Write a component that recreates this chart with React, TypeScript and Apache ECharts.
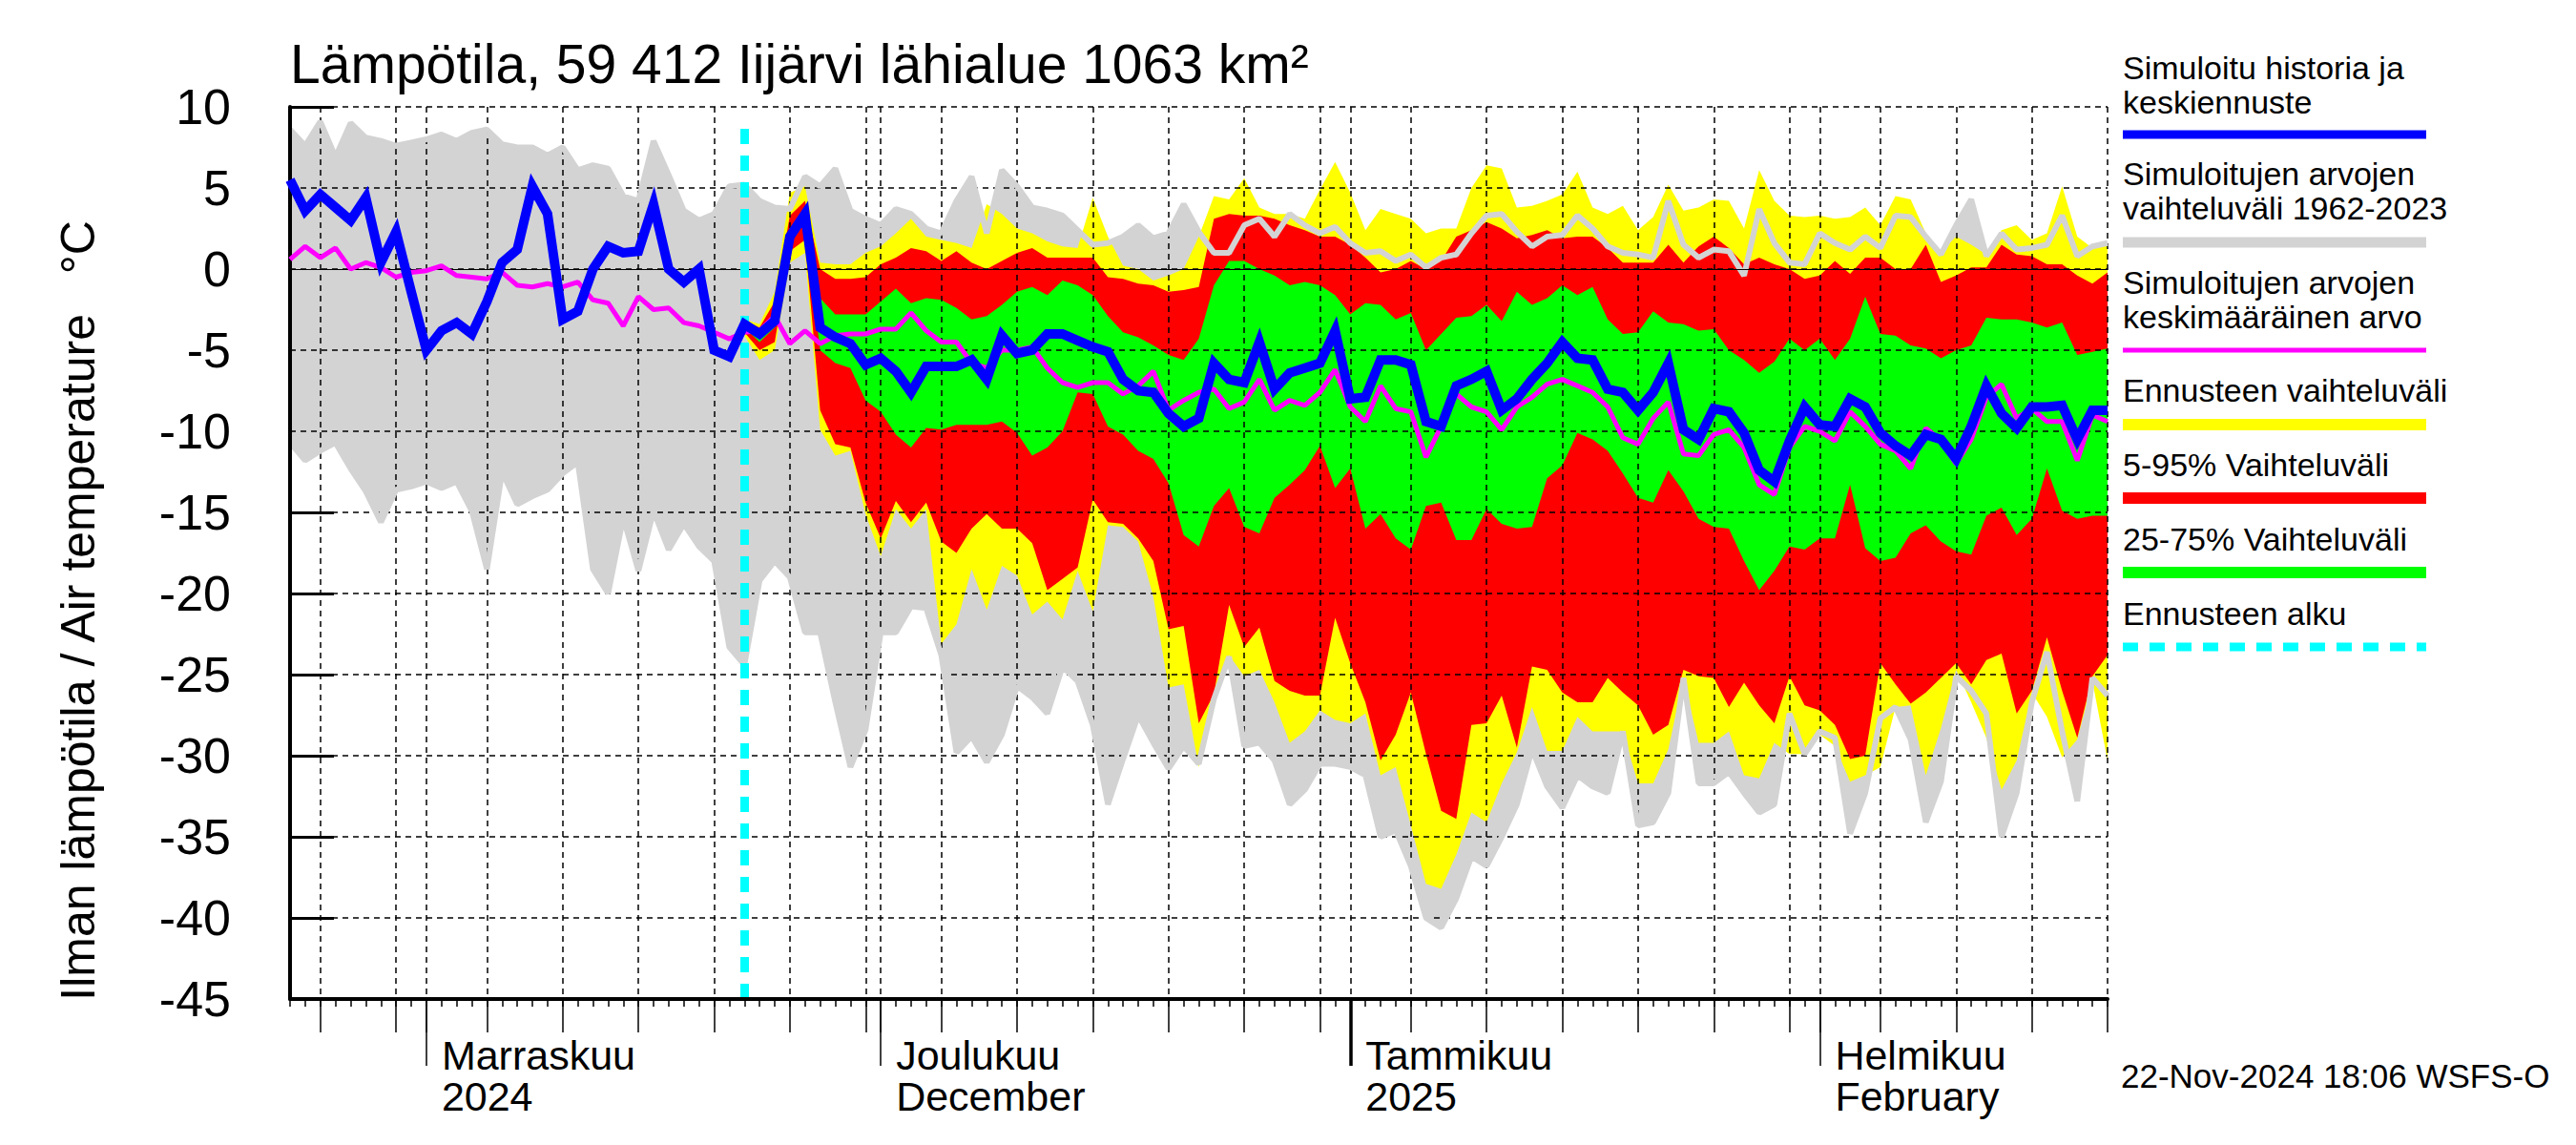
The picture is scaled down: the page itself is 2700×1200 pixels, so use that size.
import React, { useEffect, useRef } from "react";
import * as echarts from "echarts";

// ---------- data ----------
const START_Y = 2024;
const START_M = 9; // October (0-based)
const START_D = 23;
const DAY_COUNT = 121;
const FORECAST_START_INDEX = 30; // 22 Nov 2024

const titleText = "Lämpötila, 59 412 Iijärvi lähialue 1063 km²";
const yAxisTitle = "Ilman lämpötila / Air temperature   °C";
const stampText = "22-Nov-2024 18:06 WSFS-O";

const yTicks = { min: -45, max: 10, step: 5 };
const gridDays = [1, 5, 10, 15, 20, 25, 30];
const monthLabelDates = ["2024-11-01", "2024-12-01", "2025-01-01", "2025-02-01"];
const monthLabelTexts = ["Marraskuu\n2024", "Joulukuu\nDecember", "Tammikuu\n2025", "Helmikuu\nFebruary"];
const yearStartDate = "2025-01-01";

// simulated history + median forecast
const blueLine = [
  5.5, 3.6, 4.6, 3.8, 3.0, 4.4, 0.4, 2.3, -1.4, -5.0,
  -3.8, -3.3, -4.0, -2.0, 0.4, 1.2, 5.1, 3.4, -3.1, -2.6,
  0.0, 1.4, 1.0, 1.1, 4.0, 0.0, -0.8, 0.0, -5.0, -5.4,
  -3.4, -4.0, -3.2, 2.0, 3.4, -3.6, -4.2, -4.6, -5.9, -5.5,
  -6.3, -7.6, -6.0, -6.0, -6.0, -5.6, -6.8, -4.1, -5.2, -5.0,
  -4.0, -4.0, -4.4, -4.8, -5.1, -6.8, -7.5, -7.6, -8.9, -9.7,
  -9.2, -5.8, -6.8, -7.0, -4.5, -7.4, -6.4, -6.1, -5.8, -3.8,
  -8.0, -7.9, -5.6, -5.6, -5.9, -9.4, -9.7, -7.2, -6.8, -6.3,
  -8.7, -8.0, -6.8, -5.8, -4.5, -5.5, -5.6, -7.4, -7.6, -8.7,
  -7.6, -5.8, -9.9, -10.5, -8.6, -8.8, -10.1, -12.4, -13.1, -10.6,
  -8.5, -9.6, -9.7, -8.0, -8.5, -10.1, -10.9, -11.5, -10.2, -10.5,
  -11.7, -9.7, -7.2, -8.9, -9.8, -8.5, -8.5, -8.4, -10.5, -8.7,
  -8.7,
];

// mean of simulated values
const magentaLine = [
  0.6, 1.4, 0.7, 1.3, 0.0, 0.4, 0.1, -0.5, -0.2, -0.1,
  0.2, -0.4, -0.5, -0.6, -0.2, -1.0, -1.1, -0.9, -1.1, -0.8,
  -1.9, -2.1, -3.5, -1.7, -2.5, -2.4, -3.3, -3.5, -3.9, -4.3,
  -3.9, -3.8, -2.9, -4.6, -3.8, -4.6, -4.1, -4.0, -4.0, -3.7,
  -3.7, -2.7, -3.8, -4.5, -4.5, -5.8, -6.1, -5.0, -5.0, -4.8,
  -6.1, -7.0, -7.3, -7.0, -7.0, -7.7, -7.2, -6.3, -8.7, -8.1,
  -7.6, -7.4, -8.6, -8.2, -6.8, -8.7, -8.1, -8.4, -7.6, -6.2,
  -8.5, -9.4, -7.2, -8.6, -8.8, -11.6, -9.7, -7.7, -8.5, -8.8,
  -9.9, -8.5, -7.9, -7.1, -6.8, -7.2, -7.6, -8.5, -10.4, -10.8,
  -9.2, -8.2, -11.4, -11.5, -10.2, -9.9, -11.0, -13.3, -13.9, -11.0,
  -9.7, -10.0, -10.6, -8.8, -9.7, -10.8, -11.2, -12.3, -9.8, -10.6,
  -12.0, -10.5, -7.9, -7.1, -9.2, -8.6, -9.4, -9.4, -11.8, -9.0,
  -9.4,
];

// historical range 1962-2023
const grayMax = [
  8.6, 7.6, 9.1, 6.9, 9.0, 8.1, 7.9, 7.6, 7.8, 8.0,
  8.3, 7.9, 8.4, 8.6, 7.7, 7.5, 7.5, 7.0, 7.5, 6.1,
  6.4, 6.2, 4.5, 4.2, 7.9, 5.8, 3.6, 3.0, 3.4, 5.1,
  5.2, 4.2, 3.8, 3.7, 5.7, 5.1, 6.2, 3.6, 3.1, 2.7,
  3.7, 3.4, 2.5, 2.2, 4.2, 5.7, 2.2, 6.1, 5.1, 3.8,
  3.6, 3.3, 2.4, 1.5, 1.6, 2.0, 2.7, 1.9, 2.2, 4.0,
  2.3, 1.0, 1.0, 2.7, 3.1, 2.0, 3.4, 2.7, 2.2, 2.6,
  1.6, 1.0, 1.1, 0.5, 0.9, 0.1, 0.7, 0.9, 2.2, 3.3,
  3.4, 2.3, 1.4, 2.0, 2.1, 3.3, 2.5, 1.4, 1.0, 0.9,
  0.7, 4.2, 1.5, 0.7, 1.2, 1.1, -0.4, 3.7, 1.6, 0.4,
  0.3, 2.2, 1.6, 1.2, 2.0, 1.3, 3.3, 3.2, 2.0, 0.9,
  2.7, 4.3, 0.8, 2.2, 1.2, 1.3, 1.5, 3.3, 0.8, 1.4,
  1.6,
];
const grayMin = [
  -10.7, -11.8, -11.2, -10.7, -12.3, -13.7, -15.6, -13.6, -13.4, -13.1,
  -13.5, -13.1, -14.9, -18.5, -12.5, -14.5, -14.0, -13.6, -12.6, -11.9,
  -18.5, -20.0, -15.3, -18.6, -14.9, -17.3, -15.7, -17.1, -18.0, -23.3,
  -24.4, -19.2, -18.0, -19.0, -22.4, -22.4, -26.7, -30.7, -28.4, -22.4,
  -22.4, -20.8, -20.9, -23.8, -29.8, -28.8, -30.4, -28.7, -25.7, -26.4,
  -27.4, -24.5, -25.4, -28.1, -33.0, -30.2, -27.5, -29.2, -30.8, -29.4,
  -30.5, -26.5, -23.9, -29.4, -29.2, -30.3, -33.0, -32.1, -30.5, -30.5,
  -30.7, -31.2, -35.0, -34.6, -36.8, -40.0, -40.6, -38.8, -36.2, -36.8,
  -35.0, -33.0, -29.6, -31.9, -33.2, -31.2, -31.9, -32.3, -28.5, -34.3,
  -34.1, -32.3, -25.2, -31.7, -31.7, -31.0, -32.3, -33.5, -33.0, -27.4,
  -29.9, -28.5, -28.9, -34.8, -32.3, -27.7, -27.0, -29.0, -34.1, -31.6,
  -25.1, -26.0, -27.4, -35.0, -32.3, -26.7, -23.6, -28.5, -32.8, -25.2,
  -26.3,
];

// forecast bands, from 22 Nov 2024 (index 30) to the end
const forecastMax = [
  -3.1, -3.4, -1.4, 4.7, 5.1, 0.4, 0.3, 0.3, 1.0, 1.4,
  2.2, 3.1, 2.0, 1.8, 1.6, 1.3, 4.0, 3.4, 2.5, 2.2,
  1.7, 1.4, 1.3, 4.4, 2.0, 0.2, 0.0, -0.7, -0.4, 0.0,
  2.0, 4.5, 4.3, 5.6, 3.8, 3.4, 3.4, 3.1, 4.9, 6.6,
  4.7, 2.4, 3.7, 3.4, 3.1, 2.2, 2.5, 2.5, 5.0, 6.4,
  6.2, 3.8, 3.9, 4.2, 4.6, 6.0, 3.8, 3.4, 3.9, 2.4,
  3.2, 5.2, 3.6, 3.8, 4.3, 4.2, 2.5, 6.1, 4.2, 3.3,
  3.2, 3.3, 3.1, 3.2, 3.8, 2.7, 4.5, 4.3, 2.2, 1.1,
  2.0, 1.5, 0.9, 2.4, 2.7, 1.8, 2.2, 5.1, 2.0, 1.3,
  1.5,
];
const forecastP95 = [
  -3.2, -3.6, -2.0, 3.3, 4.2, 0.0, -0.6, -0.6, -0.5, 0.3,
  0.7, 1.3, 1.1, 0.5, 1.1, 0.4, 0.0, 0.5, 1.0, 1.3,
  0.7, 0.7, 0.7, 0.7, -0.5, -0.6, -0.9, -1.0, -1.4, -1.3,
  -1.1, 3.1, 3.4, 3.3, 3.3, 3.1, 2.7, 2.4, 2.0, 2.0,
  1.5, 0.7, -0.2, 0.0, 0.5, 0.0, 0.5, 2.0, 2.4, 2.9,
  2.5, 1.9, 2.1, 2.4, 1.9, 2.0, 2.0, 1.3, 0.4, 0.4,
  0.4, 1.5, 0.4, 1.4, 2.0, 1.3, 0.3, 0.7, 0.3, 0.0,
  -0.6, -0.4, 0.5, -0.3, 0.7, 0.7, 0.0, 0.0, 1.5, -0.8,
  -0.4, 0.1, 0.1, 1.5, 0.9, 0.8, 0.3, 0.3, -0.4, -0.9,
  -0.2,
];
const forecastP75 = [
  -3.3, -4.0, -2.9, 2.5, 3.8, -1.8, -2.8, -2.8, -2.8, -2.0,
  -1.2, -2.1, -1.8, -1.9, -2.4, -3.1, -2.9, -2.2, -1.4, -1.1,
  -1.6, -0.7, -1.0, -1.6, -2.9, -3.9, -4.2, -4.7, -5.3, -5.6,
  -4.3, -1.0, 0.5, 0.5, 0.0, -0.4, -1.0, -0.8, -1.0, -1.6,
  -2.8, -2.1, -2.2, -3.1, -2.7, -5.0, -4.0, -3.0, -2.9, -2.2,
  -3.2, -1.4, -2.2, -1.8, -1.0, -1.6, -1.1, -3.1, -4.0, -3.9,
  -2.6, -3.3, -3.4, -3.8, -3.7, -5.0, -5.6, -6.4, -5.7, -4.3,
  -5.0, -4.3, -5.6, -4.3, -1.7, -4.0, -4.1, -4.7, -4.9, -5.5,
  -5.0, -4.7, -3.0, -3.1, -3.1, -3.3, -3.6, -3.3, -5.3, -5.1,
  -4.9,
];
const forecastP25 = [
  -3.6, -4.5, -3.6, 1.8, 2.8, -5.0, -5.8, -6.1, -8.1, -8.8,
  -10.2, -11.0, -9.8, -9.9, -9.6, -9.6, -9.6, -9.4, -10.1, -11.5,
  -11.0, -10.0, -7.6, -7.7, -9.7, -10.2, -11.2, -11.7, -13.2, -16.4,
  -17.1, -14.6, -13.5, -15.9, -16.3, -14.1, -13.3, -12.4, -10.9, -13.5,
  -12.3, -16.0, -15.1, -16.6, -17.3, -14.6, -14.4, -16.7, -16.7, -14.8,
  -15.7, -16.0, -15.9, -12.9, -12.1, -10.1, -10.5, -11.2, -12.6, -14.1,
  -14.4, -12.4, -13.7, -15.4, -15.9, -16.0, -18.0, -19.8, -18.6, -17.1,
  -17.3, -16.6, -16.6, -13.3, -17.2, -18.0, -17.8, -16.3, -15.8, -16.8,
  -17.4, -17.6, -15.2, -14.7, -16.4, -15.4, -12.3, -14.9, -15.4, -15.2,
  -15.2,
];
const forecastP5 = [
  -3.9, -5.0, -4.5, 1.1, 1.8, -8.7, -10.8, -11.0, -14.4, -16.6,
  -14.3, -15.6, -14.4, -16.8, -17.5, -16.0, -15.1, -16.0, -16.0, -16.9,
  -19.8, -19.1, -18.4, -14.2, -15.6, -15.7, -16.6, -18.0, -22.2, -22.0,
  -28.0, -26.2, -20.7, -23.3, -22.1, -25.4, -26.0, -26.3, -26.3, -21.5,
  -24.3, -26.7, -30.3, -28.7, -26.1, -29.9, -33.4, -33.9, -28.1, -28.0,
  -26.3, -29.5, -24.5, -24.7, -26.1, -26.7, -26.7, -25.2, -26.1, -26.9,
  -28.7, -28.1, -24.7, -25.1, -25.2, -27.0, -25.5, -26.9, -28.0, -25.1,
  -26.9, -27.2, -28.1, -30.2, -30.0, -24.3, -25.6, -26.8, -26.1, -25.2,
  -24.3, -25.6, -24.1, -23.7, -27.4, -26.0, -22.7, -26.0, -28.9, -25.1,
  -23.8,
];
const forecastMin = [
  -4.1, -5.6, -5.0, 0.4, 1.0, -9.9, -11.5, -11.2, -15.1, -17.7,
  -14.8, -16.0, -14.8, -23.1, -21.9, -18.5, -21.0, -18.3, -18.9, -21.3,
  -20.5, -21.6, -18.6, -21.1, -15.8, -15.9, -16.8, -20.2, -25.8, -25.6,
  -30.7, -27.0, -23.8, -25.1, -24.7, -26.7, -29.2, -28.5, -27.2, -27.8,
  -28.0, -27.4, -31.2, -30.7, -34.3, -37.9, -38.2, -36.1, -33.5, -34.1,
  -31.7, -29.8, -27.0, -29.7, -29.7, -27.6, -28.5, -28.5, -28.5, -31.7,
  -31.7, -29.6, -25.2, -29.2, -29.2, -28.5, -31.2, -31.4, -29.2, -29.9,
  -29.9, -28.7, -29.4, -31.6, -31.2, -30.7, -27.0, -26.9, -31.2, -28.3,
  -24.7, -26.7, -28.9, -32.1, -30.3, -26.1, -27.6, -30.1, -29.0, -25.4,
  -30.3,
];

const legendEntries = [
  { lines: ["Simuloitu historia ja", "keskiennuste"], color: "#0000ff", kind: "solid" },
  { lines: ["Simuloitujen arvojen", "vaihteluväli 1962-2023"], color: "#d3d3d3", kind: "solid" },
  { lines: ["Simuloitujen arvojen", "keskimääräinen arvo"], color: "#ff00ff", kind: "solid" },
  { lines: ["Ennusteen vaihteluväli"], color: "#ffff00", kind: "solid" },
  { lines: ["5-95% Vaihteluväli"], color: "#ff0000", kind: "solid" },
  { lines: ["25-75% Vaihteluväli"], color: "#00ff00", kind: "solid" },
  { lines: ["Ennusteen alku"], color: "#00ffff", kind: "dashed" },
];

// ---------- helpers ----------
const FONT = '"Liberation Sans", Arial, Helvetica, sans-serif';

function buildCategories(): string[] {
  const out: string[] = [];
  for (let i = 0; i < DAY_COUNT; i++) {
    const d = new Date(Date.UTC(START_Y, START_M, START_D + i));
    out.push(d.toISOString().slice(0, 10));
  }
  return out;
}

function padForecast(arr: number[]): (number | null)[] {
  const out: (number | null)[] = [];
  for (let i = 0; i < FORECAST_START_INDEX; i++) out.push(null);
  return out.concat(arr);
}

function bandSeries(id: string, lower: (number | null)[], upper: (number | null)[], color: string, z: number) {
  const diff = upper.map((v, i) => (v == null || lower[i] == null ? null : +(v - (lower[i] as number)).toFixed(3)));
  const common = {
    type: "line",
    stack: id,
    stackStrategy: "all",
    symbol: "none",
    showSymbol: false,
    silent: true,
    z,
    xAxisIndex: 0,
    yAxisIndex: 0,
    lineStyle: { width: 0, opacity: 0 },
    connectNulls: false,
  };
  return [
    { ...common, name: id + "_lo", data: lower },
    { ...common, name: id + "_hi", data: diff, areaStyle: { color, opacity: 1 } },
  ];
}

export default function App() {
  const ref = useRef<HTMLDivElement>(null);

  useEffect(() => {
    if (!ref.current) return;
    const chart = echarts.init(ref.current, undefined, { renderer: "svg" });
    const cats = buildCategories();
    const dom = (i: number) => parseInt(cats[i].slice(8, 10), 10);
    const isGridDay = (i: number) => gridDays.includes(dom(i));
    const isMonthStart = (i: number) => monthLabelDates.includes(cats[i]);
    const isYearStart = (i: number) => cats[i] === yearStartDate;

    const gridLeft = 304;
    const gridTop = 112;
    const gridRight = 2700 - 2209;
    const gridBottom = 1200 - 1047;

    const xCommon = {
      type: "category",
      data: cats,
      boundaryGap: false,
      position: "bottom",
      offset: 0,
      gridIndex: 0,
    };
    const yCommon = {
      type: "value",
      min: yTicks.min,
      max: yTicks.max,
      interval: yTicks.step,
      position: "left",
      offset: 0,
      gridIndex: 0,
    };

    const fMax = padForecast(forecastMax);
    const f95 = padForecast(forecastP95);
    const f75 = padForecast(forecastP75);
    const f25 = padForecast(forecastP25);
    const f5 = padForecast(forecastP5);
    const fMin = padForecast(forecastMin);

    const legendGraphics: any[] = [];
    const textCenters = [[71, 107], [182, 218], [296, 332], [409], [487], [565], [643]];
    const lineYs = [141, 254, 367, 445, 522, 600, 678];
    const lineWs = [9, 11, 5, 12, 12, 12, 9];
    legendEntries.forEach((e, k) => {
      e.lines.forEach((t, j) => {
        legendGraphics.push({
          type: "text",
          x: 2225,
          y: textCenters[k][j],
          silent: true,
          style: {
            text: t,
            fill: "#000",
            font: `34px ${FONT}`,
            align: "left",
            verticalAlign: "middle",
          },
        });
      });
      legendGraphics.push({
        type: "line",
        silent: true,
        shape: { x1: 2225, y1: lineYs[k], x2: 2543, y2: lineYs[k] },
        style: {
          stroke: e.color,
          lineWidth: lineWs[k],
          lineDash: e.kind === "dashed" ? [16, 12] : null,
        },
      });
    });

    const option: any = {
      animation: false,
      backgroundColor: "#ffffff",
      grid: {
        left: gridLeft,
        top: gridTop,
        right: gridRight,
        bottom: gridBottom,
        containLabel: false,
        outerBoundsMode: "none",
      },
      xAxis: [
        {
          ...xCommon,
          z: 6,
          axisLine: { show: true, onZero: false, lineStyle: { color: "#000", width: 4 } },
          axisTick: { show: true, interval: 0, length: 8, lineStyle: { color: "#000", width: 1.5 } },
          axisLabel: { show: false },
          splitLine: { show: false },
        },
        {
          ...xCommon,
          z: 3,
          axisLine: { show: false, onZero: false },
          axisTick: { show: true, interval: (i: number) => isGridDay(i), length: 35, lineStyle: { color: "#000", width: 1.5 } },
          axisLabel: { show: false },
          splitLine: { show: true, interval: (i: number) => isGridDay(i), lineStyle: { color: "#000", width: 1.5, type: [6, 5] } },
        },
        {
          ...xCommon,
          z: 3,
          axisLine: { show: false, onZero: false },
          axisTick: { show: true, interval: (i: number) => isMonthStart(i), length: 70, lineStyle: { color: "#000", width: 1.5 } },
          axisLabel: {
            show: true,
            interval: (i: number) => isMonthStart(i),
            formatter: (v: string) => {
              const k = monthLabelDates.indexOf(v);
              return k >= 0 ? monthLabelTexts[k] : "";
            },
            align: "left",
            verticalAlign: "top",
            padding: [0, 0, 0, 16],
            margin: 37,
            fontSize: 43,
            lineHeight: 43,
            color: "#000",
            fontFamily: FONT,
          },
          splitLine: { show: false },
        },
        {
          ...xCommon,
          z: 3,
          axisLine: { show: false, onZero: false },
          axisTick: { show: true, interval: (i: number) => isYearStart(i), length: 70, lineStyle: { color: "#000", width: 3.5 } },
          axisLabel: { show: false },
          splitLine: { show: false },
        },
      ],
      yAxis: [
        {
          ...yCommon,
          z: 0,
          axisLine: { show: false },
          axisTick: { show: true, inside: true, length: 46, lineStyle: { color: "#000", width: 3 } },
          axisLabel: { show: true, fontSize: 52, color: "#000", margin: 62, fontFamily: FONT },
          splitLine: { show: false },
        },
        {
          ...yCommon,
          z: 3,
          axisLine: { show: false },
          axisTick: { show: false },
          axisLabel: { show: false },
          splitLine: { show: true, lineStyle: { color: "#000", width: 1.5, type: [6, 5] } },
        },
        {
          ...yCommon,
          z: 6,
          axisLine: { show: true, onZero: false, lineStyle: { color: "#000", width: 4 } },
          axisTick: { show: false },
          axisLabel: { show: false },
          splitLine: { show: false },
        },
      ],
      graphic: [
        {
          type: "text",
          x: 304,
          y: 67,
          silent: true,
          style: { text: titleText, fill: "#000", font: `57px ${FONT}`, align: "left", verticalAlign: "middle" },
        },
        {
          type: "text",
          x: 82,
          y: 640,
          rotation: Math.PI / 2,
          silent: true,
          style: { text: yAxisTitle, fill: "#000", font: `50px ${FONT}`, align: "center", verticalAlign: "middle" },
        },
        {
          type: "text",
          x: 2223,
          y: 1127,
          silent: true,
          style: { text: stampText, fill: "#000", font: `35px ${FONT}`, align: "left", verticalAlign: "middle" },
        },
        ...legendGraphics,
      ],
      series: [
        ...bandSeries("gray", grayMin, grayMax, "#d3d3d3", 1),
        ...bandSeries("yellow", fMin, fMax, "#ffff00", 1),
        ...bandSeries("red", f5, f95, "#ff0000", 1),
        ...bandSeries("green", f25, f75, "#00ff00", 1),
        {
          type: "line",
          name: "grayMaxLine",
          data: grayMax,
          symbol: "none",
          silent: true,
          z: 4,
          lineStyle: { color: "#d3d3d3", width: 6 },
          markLine: {
            silent: true,
            symbol: "none",
            label: { show: false },
            lineStyle: { color: "#000", width: 1.2, type: "solid" },
            data: [{ yAxis: 0 }],
          },
        },
        {
          type: "line",
          name: "grayMinLine",
          data: grayMin,
          symbol: "none",
          silent: true,
          z: 4,
          lineStyle: { color: "#d3d3d3", width: 6 },
        },
        {
          type: "line",
          name: "mean",
          data: magentaLine,
          symbol: "none",
          silent: true,
          z: 8,
          lineStyle: { color: "#ff00ff", width: 5 },
        },
        {
          type: "line",
          name: "median",
          data: blueLine,
          symbol: "none",
          silent: true,
          z: 9,
          lineStyle: { color: "#0000ff", width: 10, join: "miter" },
          markLine: {
            silent: true,
            symbol: "none",
            label: { show: false },
            lineStyle: { color: "#00ffff", width: 9, type: [16, 12] },
            data: [[{ coord: [cats[FORECAST_START_INDEX], yTicks.min] }, { coord: [cats[FORECAST_START_INDEX], 9.2] }]],
          },
        },
      ],
    };

    chart.setOption(option);
    return () => chart.dispose();
  }, []);

  return (
    <div
      ref={ref}
      style={{ position: "fixed", left: 0, top: 0, width: 2700, height: 1200, background: "#fff" }}
    />
  );
}
